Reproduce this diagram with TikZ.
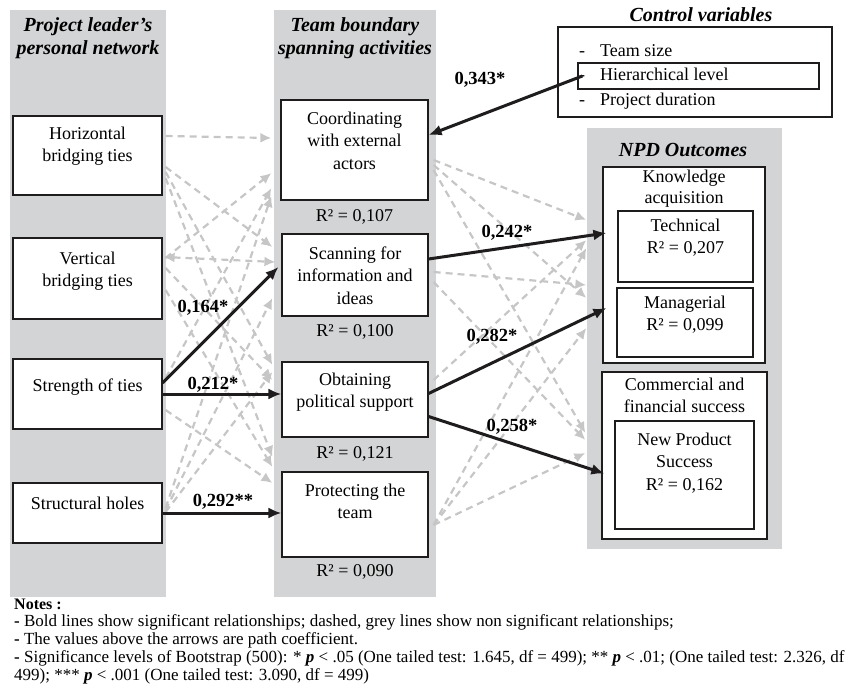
\documentclass[tikz,border=0pt]{standalone}
\usepackage{fontspec}
\setmainfont{Liberation Serif}
\usepackage{xcolor}
\usepackage{tikz}
\tikzset{>=latex}
\usetikzlibrary{arrows.meta, positioning}

\definecolor{panelgray}{RGB}{211,212,214}
\definecolor{dashgray}{RGB}{198,198,198}
\definecolor{inkblack}{RGB}{30,28,28}

\tikzset{
  box/.style={draw=inkblack, line width=1.2pt, fill=white, inner sep=0pt},
  boxtext/.style={align=center, inner sep=0pt, anchor=north, font=\fontsize{18}{22.5}\selectfont},
  heading/.style={align=center, inner sep=0pt, font=\fontsize{20}{23}\selectfont\bfseries\itshape},
  rsq/.style={inner sep=0pt, anchor=north, font=\fontsize{18}{22}\selectfont},
  coef/.style={inner sep=0pt, font=\fontsize{18.5}{22}\selectfont\bfseries},
  sigarrow/.style={draw=inkblack, line width=3pt, -{Latex[length=13pt,width=11pt]}},
  nsarrow/.style={draw=dashgray, line width=2.2pt, dash pattern=on 7pt off 5pt, -{Latex[length=11pt,width=10pt]}},
  notes/.style={anchor=west, inner sep=0pt, font=\fontsize{17}{18}\selectfont}
}

\begin{document}
\begin{tikzpicture}[x=1pt, y=-1pt]
   \useasboundingbox (0,0) rectangle (852,699);

   % grey panels
   \fill[panelgray] (10,10) rectangle (166,597);
   \fill[panelgray] (274,10) rectangle (436,597);
   \fill[panelgray] (587,128) rectangle (782,549);

   \node[heading] (nettitle) at (88,38) {Project leader's\\personal network};
   \node[heading] (acttitle) at (355,38) {Team boundary\\spanning activities};
   \node[heading] (ctrltitle) at (701,15) {Control variables};
   \node[heading] (npdtitle) at (683,150) {NPD Outcomes};

   % personal network
   \node[box, minimum width=149pt, minimum height=79pt] (hbt) at (87.5,155.5) {};
   \node[boxtext, below=11pt of hbt.north] (hbttext) {Horizontal\\bridging ties};
   \node[box, minimum width=149pt, minimum height=81pt] (vbt) at (87.5,278.5) {};
   \node[boxtext, below=14pt of vbt.north] (vbttext) {Vertical\\bridging ties};
   \node[box, minimum width=149pt, minimum height=70pt] (sot) at (87.5,394) {};
   \node[boxtext, below=20pt of sot.north] (sottext) {Strength of ties};
   \node[box, minimum width=149pt, minimum height=60pt] (sh) at (87.5,513) {};
   \node[boxtext, below=14pt of sh.north] (shtext) {Structural holes};

   % boundary spanning activities
   \node[box, minimum width=147pt, minimum height=100pt] (coord) at (354.5,150) {};
   \node[boxtext, below=12pt of coord.north] (coordtext) {Coordinating\\with external\\actors};
   \node[rsq, below=9pt of coord.south] (coordrsq) {R² = 0,107};
   \node[box, minimum width=146pt, minimum height=82pt] (scan) at (355,275) {};
   \node[boxtext, below=13pt of scan.north] (scantext) {Scanning for\\information and\\ideas};
   \node[rsq, below=8pt of scan.south] (scanrsq) {R² = 0,100};
   \node[box, minimum width=146pt, minimum height=75pt] (obt) at (355,399.5) {};
   \node[boxtext, below=11pt of obt.north] (obttext) {Obtaining\\political support};
   \node[rsq, below=9pt of obt.south] (obtrsq) {R² = 0,121};
   \node[box, minimum width=146pt, minimum height=85pt] (prot) at (355,514.5) {};
   \node[boxtext, below=12pt of prot.north] (prottext) {Protecting the\\team};
   \node[rsq, below=7pt of prot.south] (protrsq) {R² = 0,090};

   % control variables
   \node[box, minimum width=274pt, minimum height=90pt] (ctrl) at (695,72) {};
   \node[box, minimum width=241pt, minimum height=26pt] (hl) at (698.5,76) {};
   \foreach \y/\item [count=\i] in {56/Team size, 80/Hierarchical level, 105/Project duration}{
     \node[boxtext, anchor=base west] (ctrlitem\i) at (579,\y) {\makebox[21pt][l]{-}\item};
   }

   % NPD outcomes
   \node[box, minimum width=162pt, minimum height=196pt] (ka) at (684,265) {};
   \node[boxtext, font=\fontsize{18}{21.5}\selectfont, below=3pt of ka.north] (katext) {Knowledge\\acquisition};
   \node[box, minimum width=135pt, minimum height=71pt] (tech) at (685.5,246.5) {};
   \node[boxtext, below=8pt of tech.north] (techtext) {Technical\\R² = 0,207};
   \node[box, minimum width=136pt, minimum height=69pt] (man) at (685,322.5) {};
   \node[boxtext, below=8pt of man.north] (mantext) {Managerial\\R² = 0,099};
   \node[box, minimum width=165pt, minimum height=167pt] (cfs) at (684.5,455.5) {};
   \node[boxtext, below=6pt of cfs.north] (cfstext) {Commercial and\\financial success};
   \node[box, minimum width=139pt, minimum height=108pt] (nps) at (684.5,475) {};
   \node[boxtext, below=12pt of nps.north] (npstext) {New Product\\Success\\R² = 0,162};

   % non significant paths
   \foreach \s/\sy/\t/\ty in {hbt/19.5/coord/12, hbt/-11.5/scan/28, hbt/-16.5/obt/34.5, hbt/-22.5/prot/57.5,
       vbt/20.5/coord/-23, vbt/10.5/obt/19.5, vbt/-11.5/prot/47.5,
       sot/16/coord/-38, sot/-16/prot/31.5,
       sh/5/coord/-46, sh/3/scan/-23, sh/1/obt/27.5}{
     \draw[nsarrow] ([xshift=3pt,yshift=\sy pt]\s.east) -- ([xshift=-9pt,yshift=\ty pt]\t.west);
   }
   \draw[nsarrow, {Latex[length=11pt,width=10pt]}-{Latex[length=11pt,width=10pt]}]
     ([xshift=1pt,yshift=21.5pt]vbt.east) -- ([xshift=-6pt,yshift=13pt]scan.west);
   \foreach \s/\sy/\t/\ty in {coord/-10/ka/45, coord/-15/ka/-33, coord/-20/cfs/22.5,
       scan/3/ka/-20, scan/-7/cfs/15.5, obt/19.5/ka/25,
       prot/-10.5/ka/17, prot/-10.5/ka/-63, prot/-10.5/cfs/2.5}{
     \draw[nsarrow] ([xshift=5pt,yshift=\sy pt]\s.east) -- ([xshift=-16pt,yshift=\ty pt]\t.west);
   }

   % significant paths
   \draw[sigarrow] ([xshift=5pt]hl.west) -- ([yshift=15pt]coord.east);
   \draw[sigarrow] ([yshift=11pt]sot.east) -- ([xshift=-3pt,yshift=8pt]scan.west);
   \draw[sigarrow] (sot.east) -- (sot.east -| obt.west);
   \draw[sigarrow] (sh.east) -- (sh.east -| prot.west);
   \draw[sigarrow] ([yshift=16pt]scan.east) -- ([xshift=4pt,yshift=32pt]ka.west);
   \draw[sigarrow] ([yshift=6pt]obt.east) -- ([xshift=4pt,yshift=-43pt]ka.west);
   \draw[sigarrow] ([yshift=-17pt]obt.east) -- ([xshift=3pt,yshift=-18pt]cfs.west);

   \node[coef] (c343) at (480,80) {0,343*};
   \node[coef] (c164) at (203,308) {0,164*};
   \node[coef] (c212) at (213,385) {0,212*};
   \node[coef] (c292) at (223,502) {0,292**};
   \node[coef] (c242) at (507,233) {0,242*};
   \node[coef] (c282) at (492,337) {0,282*};
   \node[coef] (c258) at (512,427) {0,258*};

   % notes
   \node[notes, font=\fontsize{16}{18}\selectfont\bfseries] (notehead) at (14,604) {Notes :};
   \node[notes] (note1) at (14,622) {\textbf{-} Bold lines show significant relationships; dashed, grey lines show non significant relationships;};
   \node[notes] (note2) at (14,640) {\textbf{-} The values above the arrows are path coefficient.};
   \node[notes] (note3) at (14,658) {\textbf{-} Significance levels of Bootstrap (500): * \textbf{\textit{p}} {<} .05 (One tailed test: 1.645, df = 499); ** \textbf{\textit{p}} {<} .01; (One tailed test: 2.326, df};
   \node[notes] (note4) at (14,676) {499); *** \textbf{\textit{p}} {<} .001 (One tailed test: 3.090, df = 499)};

\end{tikzpicture}
\end{document}
